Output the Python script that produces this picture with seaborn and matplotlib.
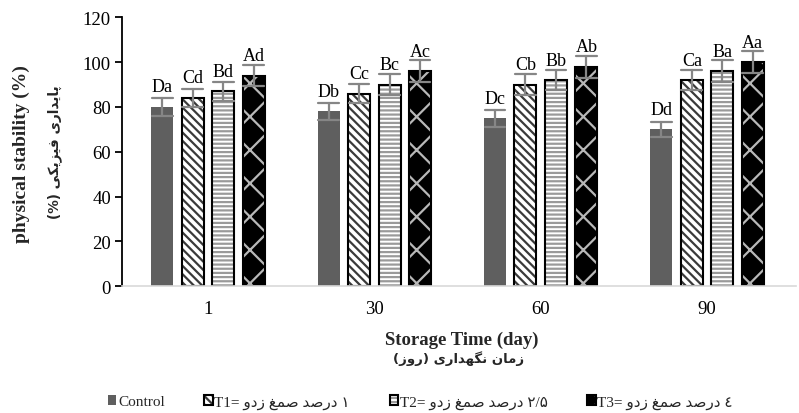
import re
import numpy as np
import pandas as pd
import seaborn as sns
import matplotlib
matplotlib.use("Agg")
import matplotlib.pyplot as plt
from matplotlib.colors import to_rgba
from matplotlib.font_manager import FontProperties

# ---------------- data ----------------
days = ["1", "30", "60", "90"]
treatments = ["Control", "T1", "T2", "T3"]
control = [80, 78, 75, 70]
t1 = [84, 86, 90, 92]
t2 = [87, 90, 92, 96]
t3 = [94, 96, 98, 100]
control_err = [4.0, 3.9, 3.75, 3.5]
t1_err = [4.2, 4.3, 4.5, 4.6]
t2_err = [4.35, 4.5, 4.6, 4.8]
t3_err = [4.7, 4.8, 4.9, 5.0]
control_letters = ["Da", "Db", "Dc", "Dd"]
t1_letters = ["Cd", "Cc", "Cb", "Ca"]
t2_letters = ["Bd", "Bc", "Bb", "Ba"]
t3_letters = ["Ad", "Ac", "Ab", "Aa"]
y_ticks = [0, 20, 40, 60, 80, 100, 120]
legend_fa = ["", "۱ درصد صمغ زدو", "۲/۵ درصد صمغ زدو", "٤ درصد صمغ زدو"]
ylabel_en = "physical stability (%)"
ylabel_fa = "پایداری فیزیکی (%)"
xlabel_en = "Storage Time (day)"
xlabel_fa = "زمان نگهداری (روز)"

values = {"Control": control, "T1": t1, "T2": t2, "T3": t3}
errors = {"Control": control_err, "T1": t1_err, "T2": t2_err, "T3": t3_err}
letters = {"Control": control_letters, "T1": t1_letters, "T2": t2_letters, "T3": t3_letters}

# ---------------- simple Persian shaping (presentation forms) ----------------
FORMS = {
    "ا": ("\uFE8D", "\uFE8E", None, None),
    "پ": ("\uFB56", "\uFB57", "\uFB58", "\uFB59"),
    "ی": ("\uFBFC", "\uFBFD", "\uFBFE", "\uFBFF"),
    "د": ("\uFEA9", "\uFEAA", None, None),
    "ر": ("\uFEAD", "\uFEAE", None, None),
    "ز": ("\uFEAF", "\uFEB0", None, None),
    "ف": ("\uFED1", "\uFED2", "\uFED3", "\uFED4"),
    "ک": ("\uFB8E", "\uFB8F", "\uFB90", "\uFB91"),
    "م": ("\uFEE1", "\uFEE2", "\uFEE3", "\uFEE4"),
    "ن": ("\uFEE5", "\uFEE6", "\uFEE7", "\uFEE8"),
    "گ": ("\uFB92", "\uFB93", "\uFB94", "\uFB95"),
    "ه": ("\uFEE9", "\uFEEA", "\uFEEB", "\uFEEC"),
    "و": ("\uFEED", "\uFEEE", None, None),
    "ص": ("\uFEB9", "\uFEBA", "\uFEBB", "\uFEBC"),
    "غ": ("\uFECD", "\uFECE", "\uFECF", "\uFED0"),
}


def shape(s):
    out = []
    for i, c in enumerate(s):
        if c not in FORMS:
            out.append(c)
            continue
        iso, fin, ini, med = FORMS[c]
        prev = s[i - 1] if i > 0 else ""
        nxt = s[i + 1] if i + 1 < len(s) else ""
        jp = prev in FORMS and FORMS[prev][2] is not None
        jn = ini is not None and nxt in FORMS
        if jp and jn:
            out.append(med)
        elif jp:
            out.append(fin)
        elif jn:
            out.append(ini)
        else:
            out.append(iso)
    return "".join(out)


def rtl(s):
    sh = shape(s)
    toks = re.findall(r"[0-9\u0660-\u0669\u06F0-\u06F9/]+|.", sh)
    mirror = {"(": ")", ")": "("}
    return "".join(mirror.get(t, t) for t in reversed(toks))


# ---------------- style ----------------
sns.set_theme(style="white")
plt.rcParams["font.family"] = ["Liberation Serif", "DejaVu Sans"]
plt.rcParams["hatch.linewidth"] = 1.6

rows = []
for tr in treatments:
    for d, v, e in zip(days, values[tr], errors[tr]):
        rows.append({"day": d, "treatment": tr, "value": v - e})
        rows.append({"day": d, "treatment": tr, "value": v + e})
df = pd.DataFrame(rows)

fig = plt.figure(figsize=(7.99, 4.14), dpi=100)
ax = fig.add_axes([122 / 799, (414 - 287.3) / 414, (796 - 122) / 799, 269 / 414])

sns.barplot(
    data=df, x="day", y="value", hue="treatment", order=days, hue_order=treatments,
    estimator="mean", errorbar=lambda v: (v.min(), v.max()),
    capsize=0.5, err_kws={"color": "#868686", "linewidth": 1.6},
    width=0.733, gap=0.28, palette=["#5f5f5f", "white", "white", "black"],
    ax=ax,
)
if ax.get_legend() is not None:
    ax.get_legend().remove()

styles = {
    "Control": dict(face="#5f5f5f", edge="none", lw=0, hatch=None, hcol=None),
    "T1": dict(face="white", edge="black", lw=1.5, hatch="\\\\\\\\", hcol="#3a3a3a"),
    "T2": dict(face="white", edge="black", lw=1.5, hatch="----", hcol="#9a9a9a"),
    "T3": dict(face="black", edge="black", lw=1.5, hatch="x", hcol="#b8b8b8"),
}

for tr, cont in zip(treatments, ax.containers):
    st = styles[tr]
    for p, lab in zip(cont.patches, letters[tr]):
        p.set_facecolor(st["face"])
        p.set_edgecolor(st["edge"])
        p.set_linewidth(st["lw"])
        if st["hatch"]:
            p.set_hatch(st["hatch"])
            p._hatch_color = to_rgba(st["hcol"])
        x = p.get_x() + p.get_width() / 2
        ax.annotate(lab, (x, p.get_height()), xytext=(0, 15.5), textcoords="offset pixels",
                    ha="center", va="baseline", fontsize=13, family="Liberation Serif",
                    color="black")

ax.set_ylim(0, 120)
ax.set_xlim(-0.517, 3.535)
ax.set_yticks(y_ticks)
ax.set_xlabel("")
ax.set_ylabel("")
for lab in ax.get_yticklabels() + ax.get_xticklabels():
    lab.set_family("Liberation Serif")
    lab.set_fontsize(13.5)
    lab.set_color("black")
ax.tick_params(axis="y", direction="out", length=5, width=1.3, color="black", pad=3, left=True)
ax.tick_params(axis="x", length=0, pad=10)
for s in ["top", "right"]:
    ax.spines[s].set_visible(False)
ax.spines["left"].set_color("black")
ax.spines["left"].set_linewidth(1.3)
ax.spines["bottom"].set_color("#d9d9d9")
ax.spines["bottom"].set_linewidth(1.2)
ax.grid(False)

# axis titles
fig.text(21 / 799, 1 - 154 / 414, ylabel_en, rotation=90, ha="center", va="center",
         fontsize=14, fontweight="bold", family="Liberation Serif")
fig.text(55 / 799, 1 - 152 / 414, rtl(ylabel_fa), rotation=90, ha="center", va="center",
         fontsize=9.8, fontweight="bold", family=["DejaVu Sans"])
fig.text(462 / 799, 1 - 340 / 414, xlabel_en, ha="center", va="center",
         fontsize=13.5, fontweight="bold", family="Liberation Serif")
fig.text(459 / 799, 1 - 359 / 414, rtl(xlabel_fa), ha="center", va="center",
         fontsize=9.5, fontweight="bold", family=["DejaVu Sans"])

# legend
handles = [cont.patches[0] for cont in ax.containers]
labels = []
for tr, fa in zip(treatments, legend_fa):
    labels.append(tr if not fa else tr + "= " + rtl(fa))
leg = fig.legend(handles, labels, loc="center left", bbox_to_anchor=(108 / 799, 1 - 403 / 414),
                 ncol=4, frameon=False, handlelength=0.55, handleheight=0.55, handletextpad=0.1,
                 columnspacing=2.6, borderaxespad=0, borderpad=0,
                 prop=FontProperties(family=["Liberation Serif", "DejaVu Sans"], size=11))

fig.savefig("out.png", dpi=100)
